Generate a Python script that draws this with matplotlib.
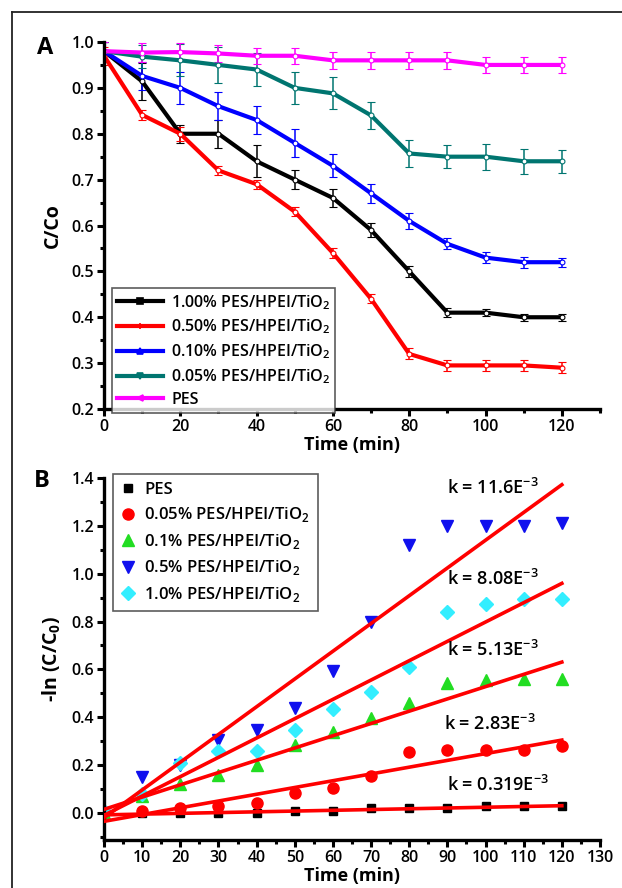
import matplotlib.pyplot as plt
import numpy as np
from matplotlib.lines import Line2D
from matplotlib.ticker import MultipleLocator

plt.rcParams['font.family'] = ['Open Sans', 'DejaVu Sans']
plt.rcParams['font.weight'] = 'semibold'

# ---- panel A: C/Co vs time ----
time_a = [0, 10, 20, 30, 40, 50, 60, 70, 80, 90, 100, 110, 120]
labels_a = ['1.00% PES/HPEI/TiO$_{\\mathregular{2}}$', '0.50% PES/HPEI/TiO$_{\\mathregular{2}}$',
            '0.10% PES/HPEI/TiO$_{\\mathregular{2}}$', '0.05% PES/HPEI/TiO$_{\\mathregular{2}}$', 'PES']
colors_a = ['#000000', '#ff0000', '#0000ff', '#007570', '#ff00ff']
markers_a = ['s', '+', '^', 'v', '<']
c_100 = [0.98, 0.914, 0.80, 0.80, 0.74, 0.70, 0.66, 0.59, 0.50, 0.41, 0.41, 0.40, 0.40]
c_050 = [0.97, 0.841, 0.80, 0.72, 0.69, 0.63, 0.54, 0.44, 0.32, 0.295, 0.295, 0.295, 0.29]
c_010 = [0.98, 0.926, 0.90, 0.86, 0.83, 0.78, 0.73, 0.67, 0.61, 0.56, 0.53, 0.52, 0.52]
c_005 = [0.98, 0.968, 0.96, 0.95, 0.94, 0.90, 0.888, 0.84, 0.757, 0.75, 0.75, 0.74, 0.74]
c_pes = [0.98, 0.977, 0.978, 0.975, 0.97, 0.97, 0.96, 0.96, 0.96, 0.96, 0.95, 0.95, 0.95]
e_100 = [0.02, 0.04, 0.02, 0.03, 0.035, 0.02, 0.02, 0.015, 0.012, 0.01, 0.008, 0.008, 0.008]
e_050 = [0.02, 0.01, 0.015, 0.01, 0.01, 0.01, 0.01, 0.01, 0.012, 0.012, 0.012, 0.012, 0.012]
e_010 = [0.02, 0.03, 0.035, 0.03, 0.03, 0.03, 0.025, 0.02, 0.018, 0.012, 0.012, 0.012, 0.01]
e_005 = [0.02, 0.025, 0.035, 0.04, 0.035, 0.035, 0.035, 0.03, 0.03, 0.025, 0.028, 0.027, 0.025]
e_pes = [0.02, 0.02, 0.02, 0.018, 0.018, 0.018, 0.018, 0.018, 0.018, 0.018, 0.018, 0.018, 0.018]
series_a = [c_100, c_050, c_010, c_005, c_pes]
errors_a = [e_100, e_050, e_010, e_005, e_pes]

# ---- panel B: -ln(C/C0) vs time with linear fits ----
time_b = [0, 10, 20, 30, 40, 50, 60, 70, 80, 90, 100, 110, 120]
labels_b = ['PES', '0.05% PES/HPEI/TiO$_{\\mathregular{2}}$', '0.1% PES/HPEI/TiO$_{\\mathregular{2}}$',
            '0.5% PES/HPEI/TiO$_{\\mathregular{2}}$', '1.0% PES/HPEI/TiO$_{\\mathregular{2}}$']
colors_b = ['#000000', '#ff0000', '#22dd22', '#1010ee', '#33eeff']
markers_b = ['s', 'o', '^', 'v', 'D']
sizes_b = [5.5, 8, 8, 8, 7]
ln_pes = [0.0, 0.0, 0.0, 0.0, 0.0, 0.01, 0.01, 0.02, 0.02, 0.02, 0.03, 0.03, 0.03]
ln_005 = [0.0, 0.01, 0.02, 0.03, 0.04, 0.085, 0.105, 0.155, 0.255, 0.265, 0.265, 0.265, 0.28]
ln_01 = [0.0, 0.07, 0.12, 0.16, 0.20, 0.285, 0.34, 0.395, 0.46, 0.545, 0.555, 0.56, 0.56]
ln_05 = [0.0, 0.15, 0.20, 0.305, 0.345, 0.44, 0.595, 0.80, 1.12, 1.20, 1.20, 1.20, 1.21]
ln_10 = [0.01, 0.08, 0.21, 0.26, 0.26, 0.345, 0.435, 0.505, 0.61, 0.84, 0.875, 0.895, 0.895]
series_b = [ln_pes, ln_005, ln_01, ln_05, ln_10]
k_values = [11.6e-3, 8.08e-3, 5.13e-3, 2.83e-3, 0.319e-3]
k_intercepts = [-0.02, -0.01, 0.015, -0.035, -0.008]
k_texts = ['k = 11.6E$^{\\mathregular{-3}}$', 'k = 8.08E$^{\\mathregular{-3}}$', 'k = 5.13E$^{\\mathregular{-3}}$',
           'k = 2.83E$^{\\mathregular{-3}}$', 'k = 0.319E$^{\\mathregular{-3}}$']
k_text_y = [1.36, 0.98, 0.683, 0.37, 0.118]
k_text_x = [90, 90, 90, 89, 90]

W, H = 622, 888
fig = plt.figure(figsize=(W / 100, H / 100), dpi=100)


def box(l, t, r, b):
    return [l / W, 1 - b / H, (r - l) / W, (b - t) / H]


def style_axes(ax):
    for s in ['top', 'right']:
        ax.spines[s].set_visible(False)
    for s in ['left', 'bottom']:
        ax.spines[s].set_linewidth(2.4)
    ax.tick_params(which='major', direction='out', length=5, width=2.2, labelsize=11.5, pad=2)
    ax.tick_params(which='minor', direction='out', length=3, width=2.2)


# frame around the figure
fig.add_artist(Line2D([12 / W, 1], [1 - 12 / H, 1 - 12 / H], color='#222222', lw=1.3, transform=fig.transFigure))
fig.add_artist(Line2D([12 / W, 12 / W], [0, 1 - 12 / H], color='#222222', lw=1.3, transform=fig.transFigure))

axA = fig.add_axes(box(104, 42, 600, 409))
for y, e, c in zip(series_a, errors_a, colors_a):
    axA.errorbar(time_a, y, yerr=e, color=c, lw=3, elinewidth=1.1, capsize=3, capthick=1.3,
                 marker='o', ms=3.5, mfc='white', mec=c, mew=0.8)
axA.set_xlim(0, 130)
axA.set_ylim(0.2, 1.0)
axA.xaxis.set_minor_locator(MultipleLocator(10))
axA.yaxis.set_major_locator(MultipleLocator(0.1))
axA.yaxis.set_minor_locator(MultipleLocator(0.05))
axA.set_xticks([0, 20, 40, 60, 80, 100, 120])
axA.yaxis.set_major_formatter(plt.FuncFormatter(lambda v, p: f'{v:.1f}'))
style_axes(axA)
axA.set_xlabel('Time (min)', fontsize=13, fontweight='bold', labelpad=1)
axA.set_ylabel('C/Co', fontsize=14, fontweight='bold', labelpad=6)
handles_a = [Line2D([], [], color=c, lw=3, marker=m, ms=4, mew=1.2) for c, m in zip(colors_a, markers_a)]
legA = axA.legend(handles_a, labels_a, loc='lower left', bbox_to_anchor=(0.016, -0.01), fontsize=11.5,
                  frameon=True, fancybox=False, edgecolor='#333333', handlelength=2.9, handletextpad=0.5,
                  labelspacing=0.38, borderpad=0.3, borderaxespad=0)
legA.get_frame().set_linewidth(1.2)
fig.text(45 / W, 1 - 48 / H, 'A', fontsize=17, fontweight='bold', ha='center', va='center')

axB = fig.add_axes(box(104, 478, 600, 840))
tfit = np.array([time_b[0], time_b[-1]])
for k, b0 in zip(k_values, k_intercepts):
    axB.plot(tfit, b0 + k * tfit, color='#ff0000', lw=2.6, zorder=3)
for y, c, m, s, lab in zip(series_b, colors_b, markers_b, sizes_b, labels_b):
    axB.plot(time_b, y, ls='none', marker=m, ms=s, color=c, label=lab, zorder=2)
for tx, ty, txt in zip(k_text_x, k_text_y, k_texts):
    axB.text(tx, ty, txt, fontsize=13, fontweight='semibold', ha='left', va='center')
axB.set_xlim(0, 130)
axB.set_ylim(-0.113, 1.4)
axB.xaxis.set_major_locator(MultipleLocator(10))
axB.xaxis.set_minor_locator(MultipleLocator(5))
axB.yaxis.set_minor_locator(MultipleLocator(0.1))
axB.set_yticks([0.0, 0.2, 0.4, 0.6, 0.8, 1.0, 1.2, 1.4])
axB.yaxis.set_major_formatter(plt.FuncFormatter(lambda v, p: f'{v:.1f}'))
style_axes(axB)
axB.set_xlabel('Time (min)', fontsize=13, fontweight='bold', labelpad=1)
axB.set_ylabel('-ln (C/C$_{\\mathregular{0}}$)', fontsize=14, fontweight='bold', labelpad=6)
legB = axB.legend(loc='upper left', bbox_to_anchor=(0.019, 1.01), fontsize=12, frameon=True, fancybox=False,
                  edgecolor='#333333', handlelength=0.9, handletextpad=0.5, labelspacing=0.45,
                  borderpad=0.45, borderaxespad=0)
legB.get_frame().set_linewidth(1.2)
fig.text(42 / W, 1 - 481 / H, 'B', fontsize=17, fontweight='bold', ha='center', va='center')

fig.savefig('out.png', dpi=100)
